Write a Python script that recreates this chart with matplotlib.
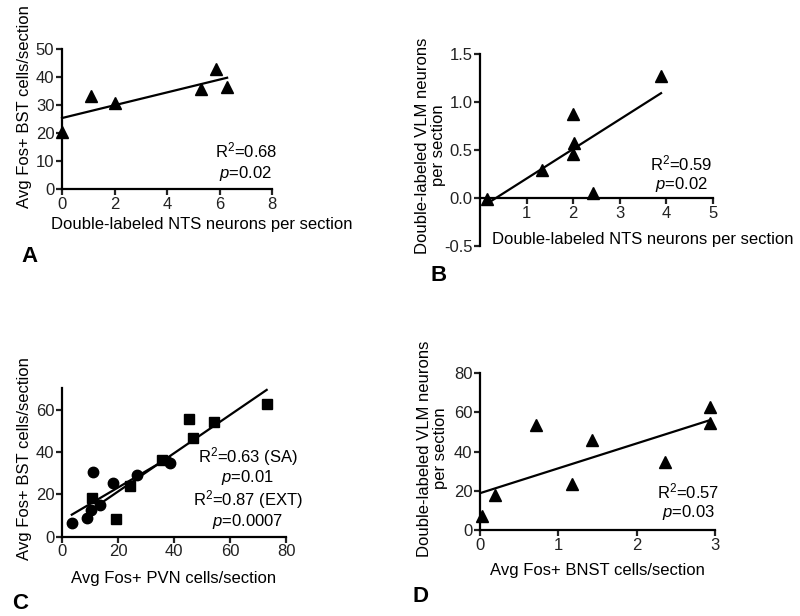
import numpy as np
import matplotlib
matplotlib.use("Agg")
import matplotlib.pyplot as plt

plt.rcParams.update({
    "font.family": ["Liberation Sans", "DejaVu Sans"],
    "mathtext.fontset": "custom",
    "mathtext.rm": "Liberation Sans",
    "mathtext.it": "Liberation Sans:italic",
    "axes.linewidth": 1.6,
    "xtick.major.width": 1.6,
    "ytick.major.width": 1.6,
    "xtick.major.size": 4,
    "ytick.major.size": 4,
    "xtick.major.pad": 1.5,
    "ytick.major.pad": 1.5,
    "xtick.labelsize": 12,
    "ytick.labelsize": 12,
    "xtick.color": "#222222",
    "ytick.color": "#222222",
    "axes.labelsize": 12,
})

# panel A
a_x = [0.0, 1.1, 2.02, 5.3, 5.87, 6.29]
a_y = [20.5, 33.2, 30.6, 35.6, 42.9, 36.3]
# panel B
b_x = [0.14, 1.34, 1.99, 2.03, 2.0, 2.42, 3.89]
b_y = [-0.01, 0.29, 0.88, 0.58, 0.46, 0.056, 1.27]
# panel C
c_sa_x = [3.5, 8.8, 10.3, 11.2, 13.6, 18.3, 26.7, 38.6]
c_sa_y = [6.6, 8.7, 12.6, 30.7, 15.0, 25.5, 29.1, 34.9]
c_ext_x = [10.6, 19.3, 24.3, 35.6, 45.4, 46.9, 54.2, 73.1]
c_ext_y = [18.1, 8.2, 24.0, 36.0, 55.6, 46.7, 54.0, 62.8]
# panel D
d_x = [0.02, 0.19, 0.72, 1.17, 1.43, 2.36, 2.94, 2.94]
d_y = [7.1, 17.7, 53.6, 23.5, 46.0, 34.9, 62.6, 54.5]


def fit_line(ax, x, y):
    x = np.asarray(x)
    k, b = np.polyfit(x, y, 1)
    xs = np.array([x.min(), x.max()])
    ax.plot(xs, k * xs + b, color="black", lw=1.6, clip_on=False, zorder=3)


def style(ax):
    ax.spines["top"].set_visible(False)
    ax.spines["right"].set_visible(False)
    ax.tick_params(direction="out")


fig = plt.figure(figsize=(8, 6.16), dpi=100)

# ---- A
ax = fig.add_axes([0.0775, 0.6932, 0.2625, 0.2273])
style(ax)
ax.plot(a_x, a_y, "^", color="black", ms=8, clip_on=False, zorder=4)
fit_line(ax, a_x, a_y)
ax.set_xlim(0, 8)
ax.set_ylim(0, 50)
ax.set_xticks([0, 2, 4, 6, 8])
ax.set_yticks([0, 10, 20, 30, 40, 50])
ax.set_xlabel("Double-labeled NTS neurons per section", va="top")
ax.xaxis.set_label_coords(0.667, -0.2)
ax.set_ylabel("Avg Fos+ BST cells/section")
ax.yaxis.set_label_coords(-0.145, 0.589)
ax.text(0.875, 0.195, "R$^2$=0.68\n$p$=0.02", transform=ax.transAxes,
        ha="center", va="center", fontsize=12, linespacing=1.25)
fig.text(0.0375, 0.584, "A", fontsize=16, fontweight="bold", ha="center", va="center")

# ---- B
ax = fig.add_axes([0.6, 0.6006, 0.2909, 0.3112])
style(ax)
ax.spines["bottom"].set_position(("data", 0))
ax.plot(b_x, b_y, "^", color="black", ms=8, clip_on=False, zorder=4)
fit_line(ax, b_x, b_y)
ax.set_xlim(0, 5)
ax.set_ylim(-0.5, 1.5)
ax.set_xticks([1, 2, 3, 4, 5])
ax.set_yticks([-0.5, 0.0, 0.5, 1.0, 1.5])
ax.set_yticklabels(["-0.5", "0.0", "0.5", "1.0", "1.5"])
ax.set_xlabel("Double-labeled NTS neurons per section", ha="left", va="top")
ax.xaxis.set_label_coords(0.05, 0.075)
ax.set_ylabel("Double-labeled VLM neurons\nper section", linespacing=1.1)
ax.yaxis.set_label_coords(-0.145, 0.524)
ax.text(0.865, 0.378, "R$^2$=0.59\n$p$=0.02", transform=ax.transAxes,
        ha="center", va="center", fontsize=12, linespacing=1.15)
fig.text(0.548, 0.552, "B", fontsize=16, fontweight="bold", ha="center", va="center")

# ---- C
ax = fig.add_axes([0.0775, 0.1287, 0.28, 0.2409])
style(ax)
ax.plot(c_sa_x, c_sa_y, "o", color="black", ms=7.5, clip_on=False, zorder=4)
ax.plot(c_ext_x, c_ext_y, "s", color="black", ms=7, clip_on=False, zorder=4)
fit_line(ax, c_sa_x, c_sa_y)
fit_line(ax, c_ext_x, c_ext_y)
ax.set_xlim(0, 80)
ax.set_ylim(0, 70)
ax.set_xticks([0, 20, 40, 60, 80])
ax.set_yticks([0, 20, 40, 60])
ax.set_xlabel("Avg Fos+ PVN cells/section", va="top")
ax.xaxis.set_label_coords(0.5, -0.23)
ax.set_ylabel("Avg Fos+ BST cells/section")
ax.yaxis.set_label_coords(-0.135, 0.524)
ax.text(0.83, 0.33, "R$^2$=0.63 (SA)\n$p$=0.01\nR$^2$=0.87 (EXT)\n$p$=0.0007",
        transform=ax.transAxes, ha="center", va="center", fontsize=12,
        linespacing=1.05)
fig.text(0.025, 0.021, "C", fontsize=16, fontweight="bold", ha="center", va="center")

# ---- D
ax = fig.add_axes([0.6, 0.1396, 0.2938, 0.2544])
style(ax)
ax.plot(d_x, d_y, "^", color="black", ms=8, clip_on=False, zorder=4)
fit_line(ax, d_x, d_y)
ax.set_xlim(0, 3)
ax.set_ylim(0, 80)
ax.set_xticks([0, 1, 2, 3])
ax.set_yticks([0, 20, 40, 60, 80])
ax.set_xlabel("Avg Fos+ BNST cells/section", va="top")
ax.xaxis.set_label_coords(0.5, -0.21)
ax.set_ylabel("Double-labeled VLM neurons\nper section", linespacing=1.1)
ax.yaxis.set_label_coords(-0.135, 0.52)
ax.text(0.885, 0.18, "R$^2$=0.57\n$p$=0.03", transform=ax.transAxes,
        ha="center", va="center", fontsize=12, linespacing=1.15)
fig.text(0.526, 0.031, "D", fontsize=16, fontweight="bold", ha="center", va="center")

fig.savefig("out.png", dpi=100, facecolor="white")
